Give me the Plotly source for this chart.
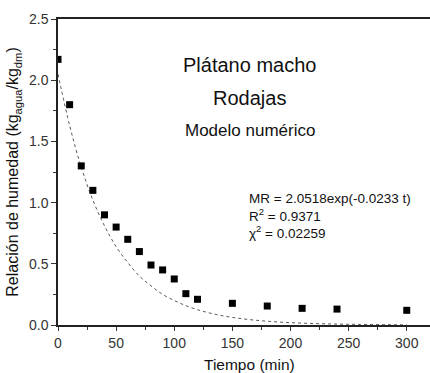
import plotly.graph_objects as go

tiempo = [0, 10, 20, 30, 40, 50, 60, 70, 80, 90, 100, 110, 120, 150, 180, 210, 240, 300]
humedad = [2.17, 1.80, 1.30, 1.10, 0.90, 0.80, 0.70, 0.60, 0.49, 0.45, 0.376, 0.256, 0.21,
           0.177, 0.155, 0.136, 0.13, 0.12]

# Model curve
t_modelo = [0, 10, 20, 30, 40, 50, 60, 70, 80, 90, 100, 110, 120, 130, 140, 150, 160, 170,
            180, 190, 200, 210, 220, 230, 240, 250, 260, 270, 280, 290, 300]
mr_modelo = [2.05, 1.63, 1.29, 1.02, 0.81, 0.64, 0.51, 0.40, 0.32, 0.25, 0.20, 0.158, 0.125,
             0.099, 0.078, 0.062, 0.049, 0.039, 0.031, 0.024, 0.019, 0.015, 0.012, 0.0095,
             0.0075, 0.006, 0.0047, 0.0037, 0.003, 0.0023, 0.0019]

x_ticks = [0, 50, 100, 150, 200, 250, 300]
y_ticks = [0.0, 0.5, 1.0, 1.5, 2.0, 2.5]
y_tick_labels = ["0.0", "0.5", "1.0", "1.5", "2.0", "2.5"]

FONT = "Liberation Sans, Arial, sans-serif"

fig = go.Figure()
fig.add_trace(go.Scatter(x=t_modelo, y=mr_modelo, mode="lines", line_shape="spline",
                         line=dict(color="#444444", width=0.9, dash="dot"),
                         showlegend=False, hoverinfo="skip"))
fig.add_trace(go.Scatter(x=tiempo, y=humedad, mode="markers",
                         marker=dict(symbol="square", size=7, color="black"),
                         showlegend=False))

for txt, yy, sz in [("Plátano macho", 2.124, 20), ("Rodajas", 1.855, 20), ("Modelo numérico", 1.593, 17)]:
    fig.add_annotation(x=165, y=yy, xref="x", yref="y", text=txt, showarrow=False,
                       xanchor="center", yanchor="middle",
                       font=dict(family=FONT, size=sz, color="#111111"))

fig.add_annotation(x=163, y=0.89, xref="x", yref="y",
                   text="MR = 2.0518exp(-0.0233 t)<br>R<sup>2</sup> = 0.9371<br>χ<sup>2</sup> = 0.02259",
                   showarrow=False, xanchor="left", yanchor="middle", align="left",
                   font=dict(family=FONT, size=13.5, color="#111111"))

# x-axis title as an annotation so it sits inside the canvas
fig.add_annotation(x=(249 - 58) / 372, y=(325 - 364) / 306, xref="paper", yref="paper",
                   text="Tiempo (min)", showarrow=False, xanchor="center", yanchor="middle",
                   font=dict(family=FONT, size=15.5, color="#111111"))

fig.update_xaxes(range=[0, 320], tickvals=x_ticks, ticks="outside", ticklen=4, tickwidth=1,
                 tickcolor="#333333", showline=True, linecolor="#222222", linewidth=1.5,
                 mirror=True, showgrid=False, zeroline=False,
                 minor=dict(dtick=25, ticks="outside", ticklen=3, tickcolor="#333333", showgrid=False),
                 tickfont=dict(family=FONT, size=14, color="#333333"))
fig.update_yaxes(range=[0, 2.5], tickvals=y_ticks, ticktext=y_tick_labels, ticks="outside",
                 ticklen=5, tickwidth=1, tickcolor="#333333", showline=True,
                 linecolor="#222222", linewidth=1.5, mirror=False, showgrid=False, zeroline=False,
                 minor=dict(dtick=0.25, ticks="outside", ticklen=3, tickcolor="#333333", showgrid=False),
                 tickfont=dict(family=FONT, size=14, color="#333333"),
                 title=dict(text="Relación de humedad (kg<sub>agua</sub>/kg<sub>dm</sub>)",
                            font=dict(family=FONT, size=16, color="#111111"), standoff=6))

fig.update_layout(width=430, height=373, margin=dict(l=58, r=0, t=19, b=48),
                  plot_bgcolor="white", paper_bgcolor="white")

fig.write_html("out.html", config={"displayModeBar": False},
               post_script="document.body.style.margin='0';document.body.style.overflow='hidden';")
